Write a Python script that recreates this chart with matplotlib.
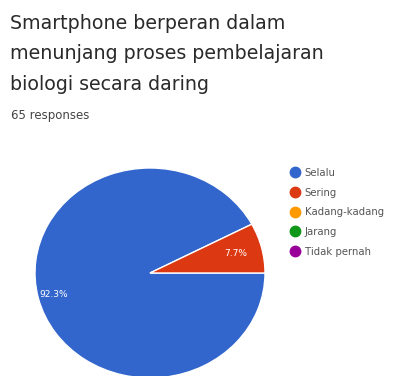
import numpy as np
import matplotlib
matplotlib.use("Agg")
import matplotlib.pyplot as plt
from matplotlib.lines import Line2D

title = "Smartphone berperan dalam\nmenunjang proses pembelajaran\nbiologi secara daring"
subtitle = "65 responses"
categories = ["Selalu", "Sering", "Kadang-kadang", "Jarang", "Tidak pernah"]
values = [60, 5, 0, 0, 0]
colors = ["#3366cc", "#dc3912", "#ff9900", "#109618", "#990099"]

W, H = 398, 376
fig = plt.figure(figsize=(W / 100, H / 100), dpi=100)
fig.patch.set_facecolor("white")

fig.text(10 / W, 1 - 14 / H, title, ha="left", va="top", fontsize=13.7,
         color="#2a2a2a", linespacing=1.75, family="DejaVu Sans")
fig.text(11 / W, 1 - 115 / H, subtitle, ha="left", va="center", fontsize=8.5,
         color="#444444", family="DejaVu Sans")

# pie axes: x spans 35..265 px, y spans 168..378 px (from top)
left, right, top, bottom = 35, 265, 168, 378
ax = fig.add_axes([left / W, 1 - bottom / H, (right - left) / W, (bottom - top) / H])
nz = [(v, c) for v, c in zip(values, colors) if v > 0]
wedges, texts, autotexts = ax.pie(
    [v for v, _ in nz], colors=[c for _, c in nz], startangle=0, counterclock=False,
    autopct=lambda p: f"{p:.1f}%", pctdistance=0.78,
    wedgeprops=dict(edgecolor="white", linewidth=1.0), radius=1.0,
    textprops=dict(color="white", fontsize=6.5))
# place percentage labels
dists = [0.86, 0.77]
for w, t, d in zip(wedges, autotexts, dists):
    mid = np.deg2rad((w.theta1 + w.theta2) / 2)
    t.set_position((d * np.cos(mid), d * np.sin(mid)))
ax.set_xlim(-1, 1)
ax.set_ylim(-1, 1)
ax.set_aspect("auto")
ax.axis("off")

handles = [Line2D([0], [0], marker="o", linestyle="", markersize=7.5,
                  markerfacecolor=c, markeredgecolor=c) for c in colors]
leg = fig.legend(handles, categories, loc="upper left",
                 bbox_to_anchor=(291 / W, 1 - 168 / H), frameon=False,
                 fontsize=7.3, handlelength=0.8, handletextpad=0.55,
                 labelspacing=0.95, borderaxespad=0, borderpad=0)
for t in leg.get_texts():
    t.set_color("#555555")

fig.savefig("out.png", dpi=100, facecolor="white")
